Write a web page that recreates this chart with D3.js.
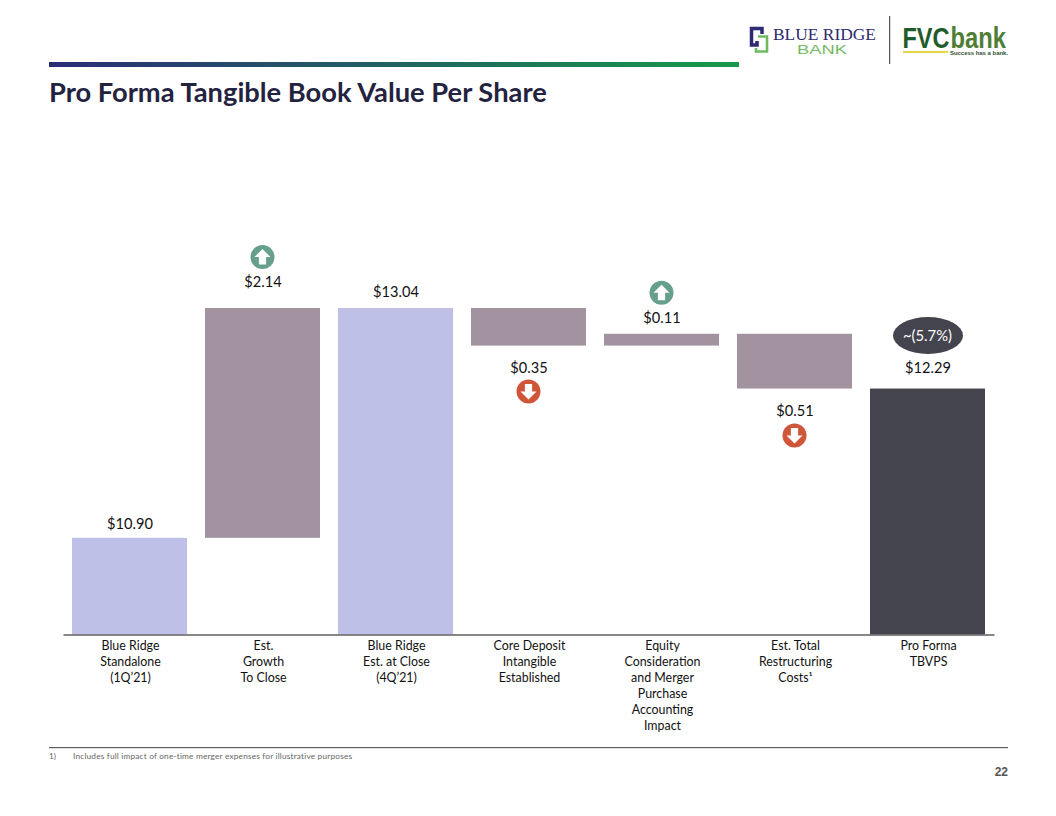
<!DOCTYPE html>
<html>
<head>
<meta charset="utf-8">
<script src="https://cdn.jsdelivr.net/npm/d3@7"></script>
<style>
  html, body { margin: 0; padding: 0; background: #fff; }
  svg { display: block; }
  text { font-family: Lato, "Open Sans", sans-serif; }
</style>
</head>
<body>
<div id="chart"></div>
<script>
// Waterfall data
const categories = ['standalone', 'growth', 'atClose', 'cdi', 'equity', 'restructuring', 'proForma'];
const tickLines = [
  ['Blue Ridge', 'Standalone', '(1Q’21)'],
  ['Est.', 'Growth', 'To Close'],
  ['Blue Ridge', 'Est. at Close', '(4Q’21)'],
  ['Core Deposit', 'Intangible', 'Established'],
  ['Equity', 'Consideration', 'and Merger', 'Purchase', 'Accounting', 'Impact'],
  ['Est. Total', 'Restructuring', 'Costs¹'],
  ['Pro Forma', 'TBVPS']
];
const barLow = [10.00, 10.90, 10.00, 12.69, 12.69, 12.29, 10.00];
const barHigh = [10.90, 13.04, 13.04, 13.04, 12.80, 12.80, 12.29];
const barKind = ['total', 'step', 'total', 'step', 'step', 'step', 'final'];
const valueLabels = ['$10.90', '$2.14', '$13.04', '$0.35', '$0.11', '$0.51', '$12.29'];
const arrows = [null, 'up', null, 'down', 'up', 'down', null];

const W = 1056, H = 816;
const colors = { total: '#bfc0e8', step: '#a3929f', final: '#44444e', up: '#66a08d', down: '#d0563a' };

// distance from bar edge to centre of value label (negative = above the top)
const labelGap = [-14, -26, -16, 22, -16, 22, -21];
const arrowGap = [0, -51, 0, 46, -41, 47, 0];

const svg = d3.select('#chart').append('svg').attr('width', W).attr('height', H);

// header rule
const grad = svg.append('defs').append('linearGradient').attr('id', 'rule');
grad.append('stop').attr('offset', '0%').attr('stop-color', '#2b2c78');
grad.append('stop').attr('offset', '100%').attr('stop-color', '#169b4a');
svg.append('rect').attr('x', 49).attr('y', 62).attr('width', 690).attr('height', 5).attr('fill', 'url(#rule)');

svg.append('text').attr('x', 49).attr('y', 102)
  .attr('font-size', 27.3).attr('font-weight', 700).attr('fill', '#24233f')
  .text('Pro Forma Tangible Book Value Per Share');

// logos
const logo = svg.append('g');
const logoText = (str, px, py, len, size, fill, family, weight) => logo.append('text')
  .attr('x', px).attr('y', py)
  .attr('textLength', len).attr('lengthAdjust', 'spacingAndGlyphs')
  .style('font-family', family).attr('font-size', size)
  .attr('font-weight', weight).attr('fill', fill).text(str);
// squeezed with a transform so each word's box stays its real width
const wordmark = (str, px, sx, fill) => logo.append('text')
  .attr('transform', `translate(${px},48) scale(${sx},1)`)
  .style('font-family', '"Liberation Sans", sans-serif').attr('font-size', 29)
  .attr('font-weight', 700).attr('fill', fill).text(str);
logo.append('path').attr('d', 'M762 34V28.5H751.5V45H757V41')
  .attr('fill', 'none').attr('stroke', '#2b2a72').attr('stroke-width', 3.5);
logo.append('path').attr('d', 'M758 36.5H767V51.5H756V48')
  .attr('fill', 'none').attr('stroke', '#6dbb5e').attr('stroke-width', 2.6);
logoText('BLUE RIDGE', 773, 40, 103, 17.5, '#2e2a6e', '"Liberation Serif", serif', 400);
logoText('BANK', 797, 54, 50, 12.5, '#74bb66', '"Liberation Sans", sans-serif', 400);
logo.append('rect').attr('x', 889).attr('y', 16).attr('width', 1.2).attr('height', 48).attr('fill', '#555');
wordmark('FVC', 902.5, 0.81, '#1f5c2c');
wordmark('bank', 950.5, 0.82, '#4f7d36');
logo.append('rect').attr('x', 903).attr('y', 51).attr('width', 45).attr('height', 2).attr('fill', '#e6d84a');
logoText('Success has a bank.', 950, 55, 58, 6.2, '#2f4f2f', '"Liberation Sans", sans-serif', 700);

// scales: the value axis starts at 10, not at 0
const x = d3.scaleBand().domain(categories).range([63, 994])
  .paddingInner(18 / 133).paddingOuter(9 / 133);
const y = d3.scaleLinear().domain([10, 13.04]).range([634.5, 308]);

svg.append('g').selectAll('rect').data(categories).join('rect')
  .attr('x', d => x(d))
  .attr('width', x.bandwidth())
  .attr('y', (d, i) => y(barHigh[i]))
  .attr('height', (d, i) => y(barLow[i]) - y(barHigh[i]))
  .attr('fill', (d, i) => colors[barKind[i]]);

// bottom axis with multi-line labels
const axis = svg.append('g').attr('transform', `translate(0,${y(10)})`)
  .call(d3.axisBottom(x).tickSize(0).tickSizeOuter(0).tickFormat(''));
axis.select('.domain').attr('stroke', '#5f5f5f').attr('stroke-width', 1.5);
axis.selectAll('.tick text').remove();
axis.selectAll('.tick').each(function (d, i) {
  const t = d3.select(this).append('text')
    .attr('text-anchor', 'middle').attr('fill', '#111').attr('font-size', 12.4);
  t.selectAll('tspan').data(tickLines[i]).join('tspan')
    .attr('x', 1).attr('y', (l, j) => 15 + j * 16).text(l => l);
});

// value labels
const labelY = i => (labelGap[i] < 0 ? y(barHigh[i]) : y(barLow[i])) + labelGap[i];
svg.append('g').selectAll('text').data(valueLabels).join('text')
  .attr('x', (d, i) => x(categories[i]) + x.bandwidth() / 2 + 0.5)
  .attr('y', (d, i) => labelY(i))
  .attr('dy', '0.35em')
  .attr('text-anchor', 'middle')
  .attr('font-size', 14.6).attr('fill', '#111')
  .text(d => d);

// up / down arrow badges
const badges = svg.append('g').selectAll('g')
  .data(arrows.map((a, i) => ({ a, i })).filter(d => d.a)).join('g')
  .attr('transform', d => {
    const edge = arrowGap[d.i] < 0 ? y(barHigh[d.i]) : y(barLow[d.i]);
    return `translate(${x(categories[d.i]) + x.bandwidth() / 2},${edge + arrowGap[d.i]})`;
  });
badges.append('circle').attr('r', 12).attr('fill', d => colors[d.a]);
badges.append('path')
  .attr('d', 'M0 -8L8 0H3.6V7.5H-3.6V0H-8Z')
  .attr('transform', d => d.a === 'down' ? 'scale(1,-1)' : null)
  .attr('fill', '#fff');

// bubble over the last bar
const lastX = x('proForma') + x.bandwidth() / 2;
svg.append('ellipse').attr('cx', lastX + 0.5).attr('cy', 335.5)
  .attr('rx', 35).attr('ry', 18.5).attr('fill', colors.final);
svg.append('text').attr('x', lastX).attr('y', 336).attr('dy', '0.35em')
  .attr('text-anchor', 'middle').attr('font-size', 14.8).attr('fill', '#fff').text('~(5.7%)');

// footnote and page number
svg.append('rect').attr('x', 49).attr('y', 747).attr('width', 959).attr('height', 1.2).attr('fill', '#5f5f5f');
svg.append('text').attr('x', 49).attr('y', 759).attr('font-size', 8.3).attr('fill', '#666').text('1)');
svg.append('text').attr('x', 73).attr('y', 759).attr('font-size', 8.3).attr('letter-spacing', 0.18).attr('fill', '#666')
  .style('font-variant-ligatures', 'none')
  .text('Includes full impact of one-time merger expenses for illustrative purposes');
svg.append('text').attr('x', 1008).attr('y', 775.5).attr('text-anchor', 'end')
  .style('font-family', '"Liberation Sans", sans-serif')
  .attr('font-size', 12).attr('font-weight', 700).attr('fill', '#555').text('22');
</script>
</body>
</html>
